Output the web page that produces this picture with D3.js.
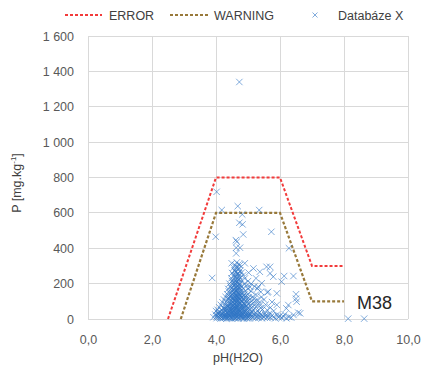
<!DOCTYPE html>
<html><head><meta charset="utf-8">
<script src="https://cdn.jsdelivr.net/npm/d3@7"></script>
<style>body{margin:0;background:#fff}svg{display:block}text{font-family:"Liberation Sans",Arial,sans-serif}</style>
</head><body>
<svg id="c" width="426" height="367"></svg>
<script>
// ---- data ----
const xTicks = [0, 2, 4, 6, 8, 10];
const yTicks = [0, 200, 400, 600, 800, 1000, 1200, 1400, 1600];
const errorPH = [2.5, 4, 6, 7, 8];
const errorP  = [0, 800, 800, 300, 300];
const warnPH  = [2.9, 4, 6, 7, 8];
const warnP   = [0, 600, 600, 100, 100];
const seriesNames = ["ERROR", "WARNING", "Databáze X"];
const sparse = [
 [4.73,1340],[4.02,719],[4.18,616],[4.68,638],[5.35,616],[4.82,591],[4.73,544],[4.83,535],
 [4.85,478],[5.73,493],[3.99,465],[4.62,446],[4.63,403],[4.75,403],[6.28,400],[3.88,232],
 [4.65,437],[4.63,371],[4.49,315],[4.75,305],[4.9,315],[5.17,286],[5.37,267],[5.69,295],
 [5.69,258],[6.13,243],[6.42,243],[6.05,211],[5.63,154],[5.9,145],[6.5,140],[6.5,115],
 [6.52,98],[6.26,79],[5.43,202],[5.06,182],[5.32,182],[5.58,295],[5.79,239],[6.2,60],
 [6.42,23],[6.57,36],[6.63,32],[8.13,2],[8.63,2],[5.6,150],[5.02,262],[5.25,230]
];
const core = [
 [3.92,10],[3.98,25],[4.02,5],[4.05,18],[4.08,35],[4.1,8],[4.12,22],[4.15,12],[4.18,30],[4.2,5],
 [4.22,18],[4.25,40],[4.27,10],[4.3,25],[4.32,3],[4.35,15],[4.37,32],[4.4,8],[4.42,20],[4.45,38],
 [4.47,12],[4.5,2],[4.52,28],[4.55,15],[4.57,6],[4.6,35],[4.62,20],[4.65,10],[4.67,42],[4.7,4],
 [4.72,26],[4.75,14],[4.77,33],[4.8,8],[4.82,22],[4.85,2],[4.87,38],[4.9,16],[4.92,28],[4.95,6],
 [4.97,20],[5.0,12],[5.02,34],[5.05,4],[5.08,24],[5.1,14],[5.13,40],[5.15,8],[5.18,28],[5.2,18],
 [5.23,5],[5.25,32],[5.28,12],[5.3,22],[5.33,6],[5.35,36],[5.38,15],[5.4,26],[5.43,4],[5.45,18],
 [5.5,10],[5.53,30],[5.55,20],[5.6,6],[5.62,16],[5.65,28],[5.7,8],[5.75,20],[5.8,12],[5.85,4],
 [5.9,24],[5.95,10],[6.0,18],[6.05,6],[6.1,14],[6.15,26],[6.2,4],[6.28,12],[6.35,8],[4.0,45],
 [4.05,52],[4.18,48],[4.28,55],[4.35,50],[4.42,47],[4.5,53],[4.55,49],[4.6,56],[4.68,51],[4.74,46],
 [4.8,54],[4.88,50],[4.95,48],[5.05,55],[5.15,50],[5.3,47],[5.45,53],[5.6,50],[5.8,45],
 [4.1,66],[4.25,63],[4.33,68],[4.4,64],[4.48,67],[4.53,62],[4.6,69],[4.65,64],[4.72,66],[4.78,61],
 [4.85,68],[4.92,63],[5.0,66],[5.12,64],[5.25,68],[5.4,62],[5.7,65],
 [4.15,80],[4.3,83],[4.38,78],[4.45,82],[4.52,79],[4.58,84],[4.63,77],[4.7,81],[4.76,83],[4.83,78],
 [4.9,80],[5.0,84],[5.1,79],[5.22,82],[5.38,78],[5.55,81],[5.9,80],
 [4.2,95],[4.32,98],[4.42,93],[4.5,97],[4.56,92],[4.62,96],[4.68,99],[4.73,94],[4.8,97],[4.88,92],
 [4.97,96],[5.08,94],[5.2,98],[5.35,93],[5.75,96],
 [4.25,110],[4.38,113],[4.46,108],[4.54,112],[4.6,107],[4.66,111],[4.71,114],[4.77,109],[4.85,112],
 [4.95,108],[5.05,111],[5.18,113],[5.3,108],[5.5,110],
 [4.3,125],[4.42,128],[4.5,123],[4.57,127],[4.63,122],[4.69,126],[4.75,129],[4.82,124],[4.92,127],
 [5.02,122],[5.15,126],[5.42,124],
 [4.35,140],[4.45,143],[4.53,138],[4.6,142],[4.66,137],[4.72,141],[4.8,144],[4.9,139],[5.0,142],
 [5.25,138],
 [4.4,155],[4.5,158],[4.58,153],[4.64,157],[4.7,152],[4.78,156],[4.88,154],[5.1,157],[5.4,153],
 [4.38,170],[4.48,173],[4.56,168],[4.62,172],[4.68,167],[4.75,171],[4.85,174],[5.0,169],[5.3,172],
 [4.45,185],[4.55,188],[4.62,183],[4.7,187],[4.8,182],[4.95,186],[5.2,184],
 [4.42,200],[4.52,203],[4.6,198],[4.67,202],[4.75,197],[4.9,201],[5.1,199],
 [4.5,215],[4.6,218],[4.68,213],[4.78,217],[5.0,214],
 [4.48,230],[4.58,233],[4.66,228],[4.75,232],[4.9,229],
 [4.55,245],[4.63,248],[4.72,243],[4.85,247],
 [4.5,260],[4.62,263],[4.7,258],[4.8,262],
 [4.58,275],[4.68,278],[4.76,273],
 [4.55,290],[4.65,293],[4.73,288],
 [4.6,305],[4.7,308],[4.65,320],
 [4.3,15],[4.4,28],[4.5,40],[4.6,8],[4.7,18],[4.55,30],[4.45,5],[4.65,28],[4.75,40],[4.62,60],
 [4.52,72],[4.68,88],[4.58,100],[4.72,118],[4.62,132],[4.68,148],[4.55,165],[4.72,180],
 [4.02,15],[4.06,28],[4.1,40],[4.14,3],[4.16,20],[4.2,32],[4.23,8],[4.26,24],[4.29,44],[4.31,12],
 [4.34,36],[4.36,6],[4.39,22],[4.41,42],[4.43,14],[4.46,26],[4.48,50],[4.51,10],[4.53,36],[4.56,22],
 [4.58,44],[4.61,4],[4.63,30],[4.66,16],[4.69,36],[4.71,10],[4.74,24],[4.76,48],[4.79,16],[4.81,34],
 [4.84,12],[4.86,26],[4.89,6],[4.91,42],[4.94,22],[4.96,34],[4.99,4],[5.01,24],[5.04,16],[5.07,30],
 [4.24,58],[4.32,62],[4.38,72],[4.44,58],[4.47,88],[4.52,60],[4.55,76],[4.57,104],[4.6,84],[4.63,58],
 [4.66,74],[4.69,104],[4.72,56],[4.75,88],[4.78,72],[4.81,100],[4.84,60],[4.87,86],[4.93,72],[4.98,56],
 [4.4,118],[4.47,132],[4.52,118],[4.55,148],[4.6,122],[4.64,162],[4.67,128],[4.7,176],[4.74,138],[4.79,120],
 [4.86,134],[4.93,118],[4.57,190],[4.65,210],[4.71,196],[4.58,206],[4.64,238],[4.7,224],[4.68,256],[4.6,270]
];
const points = sparse.concat(core);

// ---- layout ----
const svg = d3.select("#c");
const x = d3.scaleLinear().domain([0, 10]).range([88, 408]);
const y = d3.scaleLinear().domain([0, 1600]).range([319, 36]);
const grid = "#d9d9d9", tickCol = "#595959";

// gridlines
svg.append("g").selectAll("line").data(yTicks).join("line")
  .attr("x1", x(0)).attr("x2", x(10)).attr("y1", d => y(d)).attr("y2", d => y(d))
  .attr("stroke", grid).attr("stroke-width", 1).attr("shape-rendering", "crispEdges");
svg.append("g").selectAll("line").data(xTicks).join("line")
  .attr("y1", y(0)).attr("y2", y(1600)).attr("x1", d => x(d)).attr("x2", d => x(d))
  .attr("stroke", grid).attr("stroke-width", 1).attr("shape-rendering", "crispEdges");

// axes labels using d3 axes
const fmtX = d => d3.format(".1f")(d).replace(".", ",");
const ax = svg.append("g").attr("transform", `translate(0,${y(0)})`)
  .call(d3.axisBottom(x).tickValues(xTicks).tickFormat(fmtX).tickSize(0).tickPadding(16));
ax.select(".domain").remove();
ax.selectAll("text").attr("fill", tickCol).style("font-size", "12.5px");
const ay = svg.append("g").attr("transform", `translate(${x(0)},0)`)
  .call(d3.axisLeft(y).tickValues(yTicks).tickFormat(d => d3.format(",")(d).replace(/,/g, " ")).tickSize(0).tickPadding(14));
ay.select(".domain").remove();
ay.selectAll("text").attr("fill", tickCol).style("font-size", "12.5px");

// axis titles
svg.append("text").attr("x", 238).attr("y", 362).attr("text-anchor", "middle")
  .attr("fill", "#404040").style("font-size", "12.5px").text("pH(H2O)");
const yt = svg.append("text").attr("transform", "translate(21,183) rotate(-90)")
  .attr("text-anchor", "middle").attr("fill", "#404040").style("font-size", "12.5px");
yt.append("tspan").text("P [mg.kg");
yt.append("tspan").attr("dy", -5).style("font-size", "8px").text("-1");
yt.append("tspan").attr("dy", 5).text("]");

// limit lines
const line = d3.line().x(d => x(d[0])).y(d => y(d[1]));
svg.append("path").datum(errorPH.map((v, i) => [v, errorP[i]]))
  .attr("d", line).attr("fill", "none").attr("stroke", "#f23b3b").attr("stroke-width", 2)
  .attr("stroke-dasharray", "3,2");
svg.append("path").datum(warnPH.map((v, i) => [v, warnP[i]]))
  .attr("d", line).attr("fill", "none").attr("stroke", "#98793a").attr("stroke-width", 2.2)
  .attr("stroke-dasharray", "3,2");

// scatter markers
const s = 3.2;
const mk = svg.append("g").attr("stroke", "#2e75c4").attr("stroke-width", 1).attr("stroke-opacity", 0.6).attr("fill", "none");
mk.selectAll("path").data(points).join("path")
  .attr("d", d => { const px = x(d[0]), py = y(d[1]);
    return `M${px-s},${py-s}L${px+s},${py+s}M${px-s},${py+s}L${px+s},${py-s}`; });

// M38 label
svg.append("text").attr("x", 357).attr("y", 309).attr("fill", "#262626")
  .style("font-size", "18px").text("M38");

// legend
const lg = svg.append("g");
lg.append("line").attr("x1", 65).attr("x2", 102).attr("y1", 15).attr("y2", 15)
  .attr("stroke", "#f23b3b").attr("stroke-width", 2).attr("stroke-dasharray", "3,2");
lg.append("text").attr("x", 109).attr("y", 19.5).attr("fill", "#404040").style("font-size", "12.5px").text(seriesNames[0]);
lg.append("line").attr("x1", 170).attr("x2", 210).attr("y1", 15).attr("y2", 15)
  .attr("stroke", "#98793a").attr("stroke-width", 2).attr("stroke-dasharray", "3,2");
lg.append("text").attr("x", 214).attr("y", 19.5).attr("fill", "#404040").style("font-size", "12.5px").text(seriesNames[1]);
lg.append("path").attr("d", `M${315-2.5},${15-2.5}L${315+2.5},${15+2.5}M${315-2.5},${15+2.5}L${315+2.5},${15-2.5}`)
  .attr("stroke", "#2e75c4").attr("stroke-opacity", 0.6).attr("stroke-width", 1);
lg.append("text").attr("x", 338).attr("y", 19.5).attr("fill", "#404040").style("font-size", "12.5px").text(seriesNames[2]);
</script>
</body></html>
